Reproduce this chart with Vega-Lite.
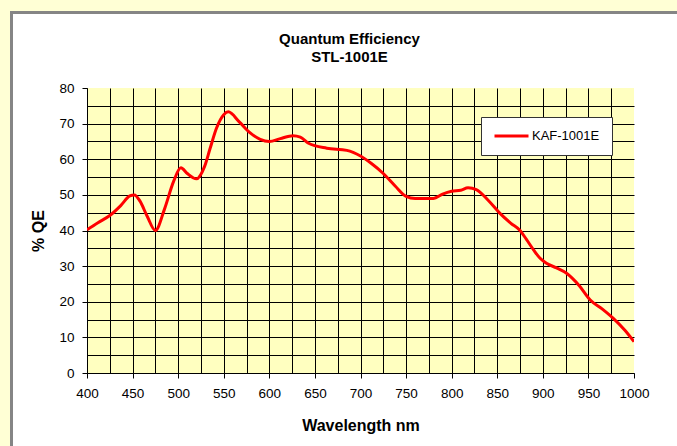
{
  "$schema": "https://vega.github.io/schema/vega-lite/v6.json",
  "padding": 0,
  "background": "white",
  "config": {
    "view": {"stroke": null},
    "font": "Liberation Sans"
  },
  "spacing": 0,
  "vconcat": [
    {
      "data": {"values": []},
      "mark": "rect",
      "width": 677,
      "height": 11,
      "view": {"fill": "#FFFFD5", "stroke": null}
    },
    {
      "spacing": 0,
      "hconcat": [
        {
          "data": {"values": []},
          "mark": "rect",
          "width": 10,
          "height": 435,
          "view": {"fill": "#FFFFD5", "stroke": null}
        },
        {
          "spacing": 0,
          "vconcat": [
            {
              "data": {"values": []},
              "mark": "rect",
              "width": 667,
              "height": 3,
              "view": {"fill": "#858585", "stroke": null}
            },
            {
              "spacing": 17,
              "hconcat": [
                {
                  "data": {"values": []},
                  "mark": "rect",
                  "width": 3,
                  "height": 432,
                  "view": {"fill": "#858585", "stroke": null}
                },
                {
                  "spacing": 17,
                  "vconcat": [
                    {
                      "data": {"values": []},
                      "mark": "rect",
                      "width": 1,
                      "height": 1,
                      "view": {"stroke": null}
                    },
                    {
                      "data": {
                        "values": [
                          {"wavelength": 400, "qe": 40.2, "series": "KAF-1001E"},
                          {"wavelength": 412, "qe": 42.2, "series": "KAF-1001E"},
                          {"wavelength": 425, "qe": 44.2, "series": "KAF-1001E"},
                          {"wavelength": 437, "qe": 47.0, "series": "KAF-1001E"},
                          {"wavelength": 447, "qe": 49.7, "series": "KAF-1001E"},
                          {"wavelength": 452, "qe": 50.0, "series": "KAF-1001E"},
                          {"wavelength": 458, "qe": 48.3, "series": "KAF-1001E"},
                          {"wavelength": 466, "qe": 44.0, "series": "KAF-1001E"},
                          {"wavelength": 475, "qe": 40.0, "series": "KAF-1001E"},
                          {"wavelength": 485, "qe": 46.0, "series": "KAF-1001E"},
                          {"wavelength": 495, "qe": 53.8, "series": "KAF-1001E"},
                          {"wavelength": 503, "qe": 57.6, "series": "KAF-1001E"},
                          {"wavelength": 510, "qe": 56.0, "series": "KAF-1001E"},
                          {"wavelength": 520, "qe": 54.5, "series": "KAF-1001E"},
                          {"wavelength": 529, "qe": 58.0, "series": "KAF-1001E"},
                          {"wavelength": 535, "qe": 63.0, "series": "KAF-1001E"},
                          {"wavelength": 542, "qe": 68.7, "series": "KAF-1001E"},
                          {"wavelength": 550, "qe": 72.5, "series": "KAF-1001E"},
                          {"wavelength": 555, "qe": 73.3, "series": "KAF-1001E"},
                          {"wavelength": 567, "qe": 70.5, "series": "KAF-1001E"},
                          {"wavelength": 579, "qe": 67.4, "series": "KAF-1001E"},
                          {"wavelength": 590, "qe": 65.6, "series": "KAF-1001E"},
                          {"wavelength": 600, "qe": 65.0, "series": "KAF-1001E"},
                          {"wavelength": 612, "qe": 65.8, "series": "KAF-1001E"},
                          {"wavelength": 626, "qe": 66.6, "series": "KAF-1001E"},
                          {"wavelength": 634, "qe": 66.2, "series": "KAF-1001E"},
                          {"wavelength": 643, "qe": 64.5, "series": "KAF-1001E"},
                          {"wavelength": 663, "qe": 63.1, "series": "KAF-1001E"},
                          {"wavelength": 685, "qe": 62.5, "series": "KAF-1001E"},
                          {"wavelength": 700, "qe": 60.9, "series": "KAF-1001E"},
                          {"wavelength": 712, "qe": 58.8, "series": "KAF-1001E"},
                          {"wavelength": 725, "qe": 56.0, "series": "KAF-1001E"},
                          {"wavelength": 738, "qe": 52.5, "series": "KAF-1001E"},
                          {"wavelength": 750, "qe": 49.6, "series": "KAF-1001E"},
                          {"wavelength": 760, "qe": 49.0, "series": "KAF-1001E"},
                          {"wavelength": 780, "qe": 49.0, "series": "KAF-1001E"},
                          {"wavelength": 790, "qe": 50.2, "series": "KAF-1001E"},
                          {"wavelength": 800, "qe": 51.0, "series": "KAF-1001E"},
                          {"wavelength": 810, "qe": 51.3, "series": "KAF-1001E"},
                          {"wavelength": 818, "qe": 52.0, "series": "KAF-1001E"},
                          {"wavelength": 827, "qe": 51.5, "series": "KAF-1001E"},
                          {"wavelength": 840, "qe": 48.5, "series": "KAF-1001E"},
                          {"wavelength": 853, "qe": 44.8, "series": "KAF-1001E"},
                          {"wavelength": 865, "qe": 42.0, "series": "KAF-1001E"},
                          {"wavelength": 875, "qe": 40.0, "series": "KAF-1001E"},
                          {"wavelength": 882, "qe": 37.5, "series": "KAF-1001E"},
                          {"wavelength": 890, "qe": 34.5, "series": "KAF-1001E"},
                          {"wavelength": 897, "qe": 32.2, "series": "KAF-1001E"},
                          {"wavelength": 904, "qe": 30.8, "series": "KAF-1001E"},
                          {"wavelength": 915, "qe": 29.5, "series": "KAF-1001E"},
                          {"wavelength": 926, "qe": 28.0, "series": "KAF-1001E"},
                          {"wavelength": 940, "qe": 24.5, "series": "KAF-1001E"},
                          {"wavelength": 952, "qe": 20.5, "series": "KAF-1001E"},
                          {"wavelength": 965, "qe": 18.0, "series": "KAF-1001E"},
                          {"wavelength": 977, "qe": 15.4, "series": "KAF-1001E"},
                          {"wavelength": 990, "qe": 12.0, "series": "KAF-1001E"},
                          {"wavelength": 1000, "qe": 8.8, "series": "KAF-1001E"}
                        ]
                      },
                      "width": 547,
                      "height": 285,
                      "view": {"fill": "#FFFFC0", "stroke": null},
                      "title": {
                        "text": ["Quantum Efficiency", "STL-1001E"],
                        "font": "Liberation Sans",
                        "fontSize": 15,
                        "fontWeight": "bold",
                        "lineHeight": 18,
                        "color": "#000000",
                        "anchor": "middle",
                        "dx": -11,
                        "offset": 16
                      },
                      "mark": {"type": "line", "interpolate": "monotone", "strokeWidth": 3, "clip": true},
                      "encoding": {
                        "x": {
                          "field": "wavelength",
                          "type": "quantitative",
                          "scale": {"domain": [400, 1000], "nice": false, "zero": false},
                          "axis": {
                            "title": "Wavelength nm",
                            "format": "d",
                            "values": [400, 425, 450, 475, 500, 525, 550, 575, 600, 625, 650, 675, 700, 725, 750, 775, 800, 825, 850, 875, 900, 925, 950, 975, 1000],
                            "labelExpr": "datum.value % 50 === 0 ? datum.label : ''",
                            "labelFlush": false,
                            "labelOverlap": false,
                            "labelFont": "Liberation Sans",
                            "labelFontSize": 13.5,
                            "labelColor": "#000000",
                            "labelPadding": 8,
                            "tickSize": 5,
                            "tickColor": "#000000",
                            "tickOpacity": {"condition": {"test": "datum.value % 50 === 0", "value": 1}, "value": 0},
                            "domainColor": "#000000",
                            "grid": true,
                            "gridColor": "#000000",
                            "gridOpacity": {"condition": {"test": "datum.value === 1000", "value": 0}, "value": 1},
                            "titleFont": "Liberation Sans",
                            "titleFontSize": 16,
                            "titleFontWeight": "bold",
                            "titleColor": "#000000",
                            "titlePadding": 18
                          }
                        },
                        "y": {
                          "field": "qe",
                          "type": "quantitative",
                          "scale": {"domain": [0, 80], "nice": false},
                          "axis": {
                            "title": "% QE",
                            "values": [0, 5, 10, 15, 20, 25, 30, 35, 40, 45, 50, 55, 60, 65, 70, 75, 80],
                            "labelExpr": "datum.value % 10 === 0 ? datum.label : ''",
                            "labelFlush": false,
                            "labelOverlap": false,
                            "labelFont": "Liberation Sans",
                            "labelFontSize": 13.5,
                            "labelColor": "#000000",
                            "labelPadding": 8,
                            "tickSize": 5,
                            "tickColor": "#000000",
                            "tickOpacity": {"condition": {"test": "datum.value % 10 === 0", "value": 1}, "value": 0},
                            "domainColor": "#000000",
                            "grid": true,
                            "gridColor": "#000000",
                            "gridOpacity": {"condition": {"test": "datum.value === 80", "value": 0}, "value": 1},
                            "titleFont": "Liberation Sans",
                            "titleFontSize": 16,
                            "titleFontWeight": "bold",
                            "titleColor": "#000000",
                            "titlePadding": 12
                          }
                        },
                        "color": {
                          "field": "series",
                          "type": "nominal",
                          "scale": {"range": ["#FF0000"]},
                          "legend": {
                            "title": null,
                            "orient": "none",
                            "legendX": 481,
                            "legendY": 117,
                            "fillColor": "#FFFFFF",
                            "strokeColor": "#333333",
                            "padding": 12,
                            "clipHeight": 14,
                            "symbolType": "stroke",
                            "symbolSize": 1156,
                            "symbolStrokeWidth": 3,
                            "labelFont": "Liberation Sans",
                            "labelFontSize": 13,
                            "labelColor": "#000000",
                            "labelOffset": 2
                          }
                        }
                      }
                    }
                  ]
                }
              ]
            }
          ]
        }
      ]
    }
  ]
}
